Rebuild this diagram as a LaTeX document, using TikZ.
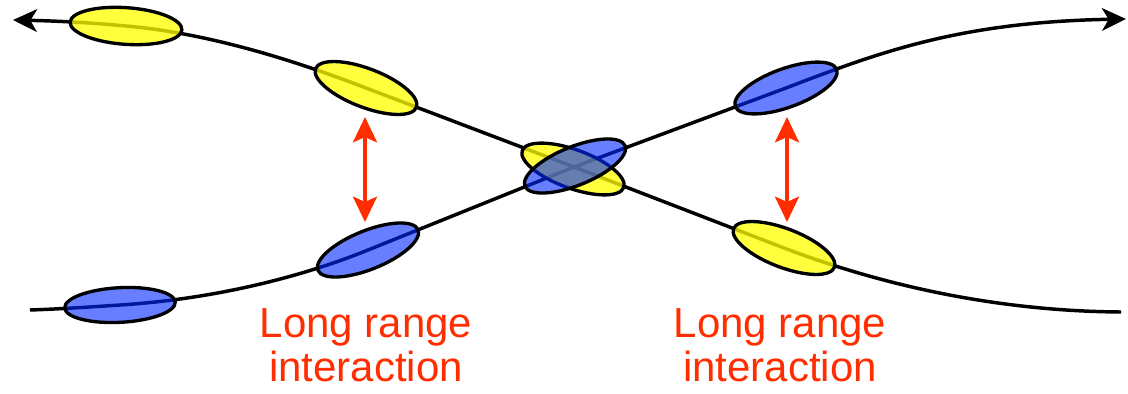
\documentclass[tikz,border=0pt]{standalone}
\usepackage{fontspec}
\setmainfont{Liberation Sans}
\usetikzlibrary{shapes.geometric,arrows.meta}
\definecolor{ylw}{RGB}{255,255,0}
\definecolor{blu}{RGB}{0,40,255}
\definecolor{lrred}{RGB}{255,45,0}
\begin{document}
\begin{tikzpicture}[x=0.75pt,y=-0.75pt,
  curve/.style={line width=2.6pt, black},
  endtip/.tip={Stealth[length=18pt,width=17pt,inset=5pt]},
  bead/.style={ellipse, draw=black, line width=2.5pt, inner sep=0pt, minimum width=81pt, minimum height=29pt},
  ybead/.style={bead, fill=ylw, fill opacity=0.76},
  bbead/.style={bead, fill=blu, fill opacity=0.6},
  redtip/.tip={Stealth[length=19pt,width=18pt,inset=4pt]},
  link/.style={line width=2.7pt, draw=lrred, redtip-redtip},
  lbl/.style={text=lrred, align=center, inner sep=0pt, font=\fontsize{31.5}{33}\selectfont}]
\useasboundingbox (0,0) rectangle (1128,393);
% positions
\coordinate (tl) at (13,20);
\coordinate (tr) at (1126,19);
\coordinate (bl) at (30,310);
\coordinate (br) at (1121,312);
\coordinate (Y1) at (126,26);
\coordinate (Y2) at (366,88);
\coordinate (B2) at (786,88);
\coordinate (B1) at (120,305);
\coordinate (B3) at (368,250);
\coordinate (Y4) at (784,248);
\coordinate (C) at (574,167);
% strands
\draw[curve, endtip-endtip] (tl) .. controls (60,21) and (95,23) .. (Y1)
  .. controls (206,33) and (291,59) .. (Y2) -- (C) -- (B2)
  .. controls (880,52) and (960,22) .. (tr);
\draw[curve] (bl) .. controls (60,309) and (90,307) .. (B1)
  .. controls (200,300) and (289,282) .. (B3) -- (C) -- (Y4)
  .. controls (863,278) and (980,311) .. (br);
% beads
\node[ybead, minimum width=84pt, minimum height=27.5pt, rotate=-4] (y1) at (Y1) {};
\node[ybead, rotate=-21] (y2) at (Y2) {};
\node[ybead, rotate=-21] (y4) at (Y4) {};
\node[ybead, rotate=-20] (yc) at (573,169) {};
\node[bbead, minimum width=83pt, minimum height=26pt, rotate=3] (b1) at (B1) {};
\node[bbead, rotate=22] (b3) at (B3) {};
\node[bbead, rotate=20] (b2) at (B2) {};
\node[bbead, rotate=22] (bc) at (575,166) {};
% interactions
\coordinate (a1t) at (365,117);
\coordinate (a1b) at (365,222);
\coordinate (a2t) at (787,117);
\coordinate (a2b) at (787,222);
\draw[link] (a1t) -- (a1b);
\draw[link] (a2t) -- (a2b);
\node[lbl] (t1) at (366,345) {Long range\\interaction};
\node[lbl] (t2) at (780,345) {Long range\\interaction};
\end{tikzpicture}
\end{document}
